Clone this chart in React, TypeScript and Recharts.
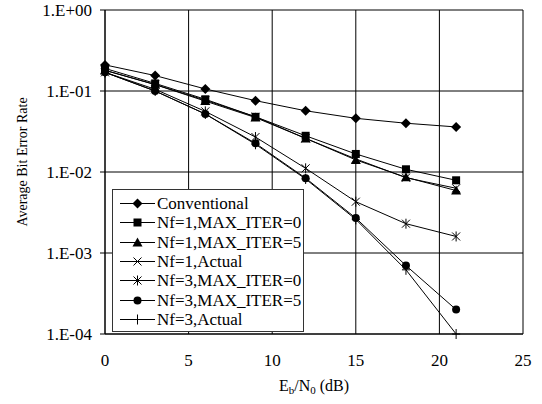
import React from "react";
import { LineChart, Line, XAxis, YAxis, CartesianGrid, Legend, Label } from "recharts";

const snr = [0, 3, 6, 9, 12, 15, 18, 21];
const conventional = [0.21, 0.155, 0.106, 0.076, 0.057, 0.046, 0.04, 0.036];
const nf1Iter0 = [0.19, 0.124, 0.079, 0.048, 0.028, 0.0167, 0.0108, 0.0079];
const nf1Iter5 = [0.18, 0.12, 0.075, 0.047, 0.026, 0.0141, 0.0086, 0.0059];
const nf1Actual = [0.18, 0.12, 0.077, 0.048, 0.026, 0.0145, 0.0085, 0.0063];
const nf3Iter0 = [0.17, 0.105, 0.056, 0.027, 0.0111, 0.0043, 0.0023, 0.0016];
const nf3Iter5 = [0.17, 0.1, 0.052, 0.0226, 0.0084, 0.0027, 0.0007, 0.0002];
const nf3Actual = [0.17, 0.1, 0.052, 0.022, 0.0082, 0.0026, 0.00062, 0.0001];

const xTicks = [0, 5, 10, 15, 20, 25];
const yTicks = [0.0001, 0.001, 0.01, 0.1, 1];

const series = [
  { key: "conv", name: "Conventional", values: conventional, shape: "diamond" },
  { key: "n1i0", name: "Nf=1,MAX_ITER=0", values: nf1Iter0, shape: "square" },
  { key: "n1i5", name: "Nf=1,MAX_ITER=5", values: nf1Iter5, shape: "triangle" },
  { key: "n1act", name: "Nf=1,Actual", values: nf1Actual, shape: "x" },
  { key: "n3i0", name: "Nf=3,MAX_ITER=0", values: nf3Iter0, shape: "asterisk" },
  { key: "n3i5", name: "Nf=3,MAX_ITER=5", values: nf3Iter5, shape: "circle" },
  { key: "n3act", name: "Nf=3,Actual", values: nf3Actual, shape: "plus" },
];

const data = snr.map((x, i) => {
  const row: Record<string, number> = { x };
  series.forEach((s) => (row[s.key] = s.values[i]));
  return row;
});

const FONT = "Liberation Serif, DejaVu Serif, serif";

const Marker = ({ shape, cx, cy }: { shape: string; cx: number; cy: number }) => {
  switch (shape) {
    case "diamond":
      return <polygon points={`${cx},${cy - 5} ${cx + 5},${cy} ${cx},${cy + 5} ${cx - 5},${cy}`} fill="#000" />;
    case "square":
      return <rect x={cx - 4} y={cy - 4} width={8} height={8} fill="#000" />;
    case "triangle":
      return <polygon points={`${cx},${cy - 5} ${cx + 5},${cy + 4} ${cx - 5},${cy + 4}`} fill="#000" />;
    case "x":
      return <path d={`M${cx - 4},${cy - 4}L${cx + 4},${cy + 4}M${cx + 4},${cy - 4}L${cx - 4},${cy + 4}`} stroke="#000" strokeWidth={1} />;
    case "asterisk":
      return (
        <path
          d={`M${cx - 4},${cy - 4}L${cx + 4},${cy + 4}M${cx + 4},${cy - 4}L${cx - 4},${cy + 4}M${cx},${cy - 5}L${cx},${cy + 5}`}
          stroke="#000"
          strokeWidth={1}
        />
      );
    case "circle":
      return <circle cx={cx} cy={cy} r={4} fill="#000" />;
    case "plus":
      return <path d={`M${cx - 4},${cy}L${cx + 4},${cy}M${cx},${cy - 5}L${cx},${cy + 5}`} stroke="#000" strokeWidth={1} />;
    default:
      return null;
  }
};

const makeDot = (shape: string) => (props: any) => {
  const { cx, cy, index } = props;
  if (cx == null || cy == null) return <g key={index} />;
  return (
    <g key={index}>
      <Marker shape={shape} cx={cx} cy={cy} />
    </g>
  );
};

const fmtExp = (v: number) => {
  const e = Math.round(Math.log10(v));
  const sign = e < 0 ? "-" : "+";
  return `1.E${sign}${String(Math.abs(e)).padStart(2, "0")}`;
};

const LegendBox = () => (
  <div
    style={{
      border: "1px solid #333",
      background: "#fff",
      width: 190,
      padding: "4px 0 2px 0",
      fontFamily: FONT,
      fontSize: 17,
      color: "#000",
    }}
  >
    {series.map((s) => (
      <div key={s.key} style={{ display: "flex", alignItems: "center", height: 19.3 }}>
        <svg width={44} height={19} style={{ flex: "none" }}>
          <line x1={7} y1={9.5} x2={42} y2={9.5} stroke="#000" strokeWidth={1} />
          <Marker shape={s.shape} cx={24.5} cy={9.5} />
        </svg>
        <span style={{ whiteSpace: "nowrap", lineHeight: "19px" }}>{s.name}</span>
      </div>
    ))}
  </div>
);

export default function App() {
  return (
    <div style={{ position: "absolute", left: 0, top: 0, width: 542, height: 404, background: "#fff" }}>
      <LineChart width={542} height={404} data={data} margin={{ top: 10, right: 19, left: 0, bottom: 40 }}>
        <CartesianGrid stroke="#000" strokeWidth={1} />
        <XAxis
          dataKey="x"
          type="number"
          domain={[0, 25]}
          ticks={xTicks}
          height={30}
          tickLine={false}
          tickSize={5}
          tickMargin={15}
          axisLine={{ stroke: "#000" }}
          tick={{ fill: "#000", fontFamily: FONT, fontSize: 17 }}
        >
          <Label
            content={(props: any) => {
              const vb = props.viewBox;
              const cx = vb.x + vb.width / 2;
              return (
                <text x={cx} y={vb.y + 57} textAnchor="middle" fontFamily={FONT} fontSize={16} fill="#000">
                  E<tspan fontSize={11} dy={3}>b</tspan>
                  <tspan dy={-3}>/N</tspan>
                  <tspan fontSize={11} dy={3}>0</tspan>
                  <tspan dy={-3}> (dB)</tspan>
                </text>
              );
            }}
          />
        </XAxis>
        <YAxis
          type="number"
          scale="log"
          domain={[0.0001, 1]}
          ticks={yTicks}
          width={105}
          tickSize={5}
          tickMargin={8}
          tickFormatter={fmtExp}
          axisLine={{ stroke: "#000" }}
          tickLine={{ stroke: "#000" }}
          tick={{ fill: "#000", fontFamily: FONT, fontSize: 17 }}
        >
          <Label
            content={() => (
              <text
                x={22}
                y={162}
                transform="rotate(-90 22 162)"
                textAnchor="middle"
                dominantBaseline="central"
                fontFamily={FONT}
                fontSize={14}
                fill="#000"
              >
                Average Bit Error Rate
              </text>
            )}
          />
        </YAxis>
        <Legend
          layout="vertical"
          align="center"
          verticalAlign="middle"
          wrapperStyle={{ left: 112, top: 189, width: "auto" }}
          content={() => <LegendBox />}
        />
        {series.map((s) => (
          <Line
            key={s.key}
            dataKey={s.key}
            name={s.name}
            type="linear"
            stroke="#000"
            strokeWidth={1}
            dot={makeDot(s.shape)}
            activeDot={false}
            isAnimationActive={false}
          />
        ))}
      </LineChart>
    </div>
  );
}
